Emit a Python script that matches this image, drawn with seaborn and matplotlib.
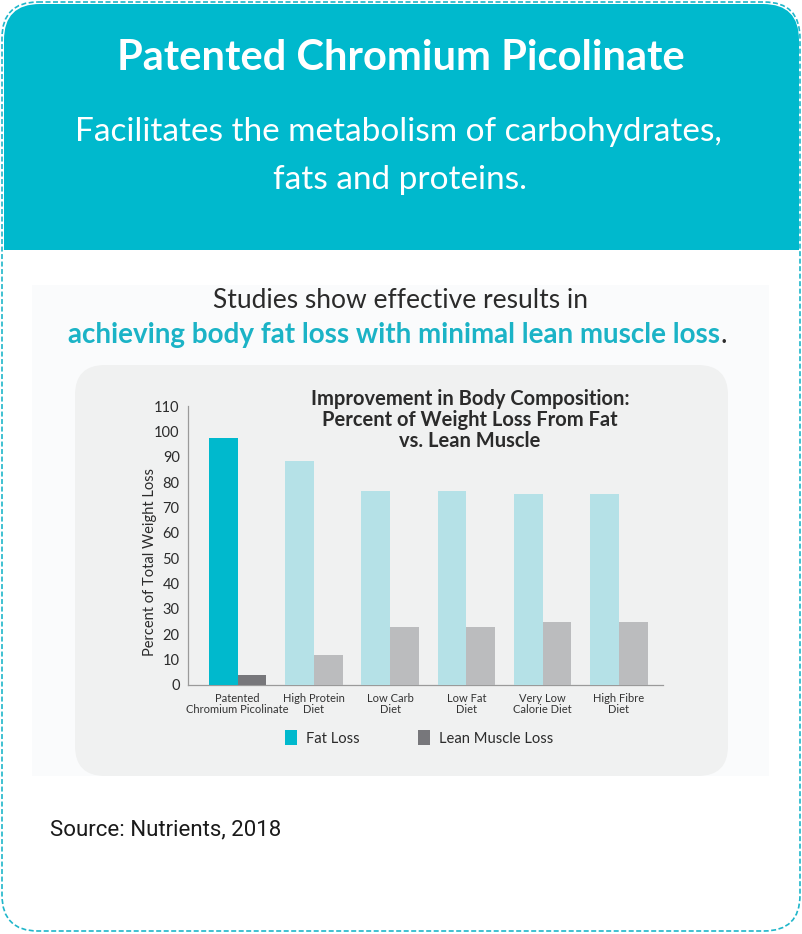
import matplotlib
matplotlib.use("Agg")
import matplotlib.pyplot as plt
from matplotlib.patches import FancyBboxPatch, Rectangle, Patch
import seaborn as sns
import pandas as pd

categories = ["Patented\nChromium Picolinate", "High Protein\nDiet", "Low Carb\nDiet",
              "Low Fat\nDiet", "Very Low\nCalorie Diet", "High Fibre\nDiet"]
fat_loss = [97.5, 88.3, 76.5, 76.5, 75.2, 75.2]
lean_loss = [3.8, 11.8, 22.9, 22.9, 24.8, 24.8]
series_names = ["Fat Loss", "Lean Muscle Loss"]
y_ticks = list(range(0, 111, 10))

TEAL = "#00B9CD"
LIGHT_TEAL = "#B5E1E7"
DARK_GRAY = "#77777B"
LIGHT_GRAY = "#BBBCBE"
PANEL = "#F0F1F1"
TEXT = "#2B2B2B"

sns.set_theme(style="white")
plt.rcParams["font.family"] = ["Lato", "DejaVu Sans"]

W, H = 803, 934
fig = plt.figure(figsize=(W / 100, H / 100), dpi=100)
fig.patch.set_facecolor("white")

bg = fig.add_axes([0, 0, 1, 1])
bg.set_xlim(0, W)
bg.set_ylim(H, 0)
bg.axis("off")

# faint backdrop behind chart section
bg.add_patch(Rectangle((32, 285), 737, 491, facecolor="#FAFBFC", edgecolor="none", zorder=1.7))
# header block with rounded top
bg.add_patch(FancyBboxPatch((4, 4), 795, 290, boxstyle="round,pad=0,rounding_size=36",
                            facecolor=TEAL, edgecolor="none", zorder=1))
bg.add_patch(Rectangle((4, 250), 795, 50, facecolor="white", edgecolor="none", zorder=1.5))
# dashed card border
bg.add_patch(FancyBboxPatch((2, 2), 798, 929, boxstyle="round,pad=0,rounding_size=36",
                            facecolor="none", edgecolor="#1FB6CA", linewidth=1.2,
                            linestyle=(0, (3, 1.5)), zorder=3))
# chart panel
bg.add_patch(FancyBboxPatch((75, 365), 653, 411, boxstyle="round,pad=0,rounding_size=30",
                            facecolor=PANEL, edgecolor="none", zorder=2))

bg.text(401, 58, "Patented Chromium Picolinate", color="white", fontsize=30,
        fontweight="bold", ha="center", va="center", zorder=4)
bg.text(398, 132, "Facilitates the metabolism of carbohydrates,", color="white", fontsize=24,
        fontweight="normal", ha="center", va="center", zorder=4)
bg.text(400, 180, "fats and proteins.", color="white", fontsize=24,
        fontweight="normal", ha="center", va="center", zorder=4)

bg.text(401, 300, "Studies show effective results in", color=TEXT, fontsize=19,
        ha="center", va="center", zorder=4)
t1 = bg.text(68, 335, "achieving body fat loss with minimal lean muscle loss", color="#1BB3C6",
             fontsize=20, fontweight="bold", ha="left", va="center", zorder=4)
fig.canvas.draw()
ext = t1.get_window_extent(renderer=fig.canvas.get_renderer())
fig.text((ext.x1 + 1) / W, 1 - 335 / H, ".", color=TEXT, fontsize=20, ha="left", va="center")

bg.text(50, 830, "Source: Nutrients, 2018", color="#1A1A1A", fontsize=16,
        family=["Roboto", "DejaVu Sans"], ha="left", va="center", zorder=4)

# chart
df = pd.DataFrame({
    "category": categories * 2,
    "value": fat_loss + lean_loss,
    "series": [series_names[0]] * len(categories) + [series_names[1]] * len(categories),
})

ax = fig.add_axes([188 / W, 1 - 685 / H, (663 - 188) / W, (685 - 406) / H])
ax.set_facecolor("none")
sns.barplot(data=df, x="category", y="value", hue="series", order=categories,
            hue_order=series_names, palette=[LIGHT_TEAL, LIGHT_GRAY], width=0.755,
            saturation=1, legend=False, ax=ax, zorder=5)
bars = ax.patches[:2 * len(categories)]
for i, p in enumerate(bars):
    p.set_edgecolor("none")
    if i == 0:
        p.set_facecolor(TEAL)
    elif i == len(categories):
        p.set_facecolor(DARK_GRAY)

ax.set_xlim(-0.652, 5.58)
ax.set_ylim(0, 110)
ax.set_yticks(y_ticks)
ax.set_yticklabels([str(v) for v in y_ticks], fontsize=10.5, color=TEXT)
ax.set_xticks(range(len(categories)))
ax.set_xticklabels(categories, fontsize=8, color="#333333", linespacing=1.0)
ax.tick_params(axis="both", length=0)
ax.tick_params(axis="x", pad=6)
ax.tick_params(axis="y", pad=6)
ax.set_xlabel("")
ax.set_ylabel("Percent of Total Weight Loss", fontsize=10.5, color=TEXT)
ax.yaxis.set_label_coords(-0.066, 0.44)
for s in ["top", "right"]:
    ax.spines[s].set_visible(False)
for s in ["left", "bottom"]:
    ax.spines[s].set_color("#9A9A9A")
    ax.spines[s].set_linewidth(0.9)

fig.text(470 / W, 1 - 420 / H,
         "Improvement in Body Composition:\nPercent of Weight Loss From Fat\nvs. Lean Muscle",
         ha="center", va="center", fontsize=14.5, fontweight="bold", color=TEXT, linespacing=1.05)

handles = [Patch(facecolor=TEAL, edgecolor="none"), Patch(facecolor=DARK_GRAY, edgecolor="none")]
fig.legend(handles, series_names, loc="center", bbox_to_anchor=(419 / W, 1 - 738 / H), ncol=2,
           frameon=False, fontsize=10.6, handlelength=0.8, handleheight=1.1, columnspacing=4.0,
           handletextpad=0.6, labelcolor=TEXT)

fig.savefig("out.png", dpi=100, facecolor="white")
